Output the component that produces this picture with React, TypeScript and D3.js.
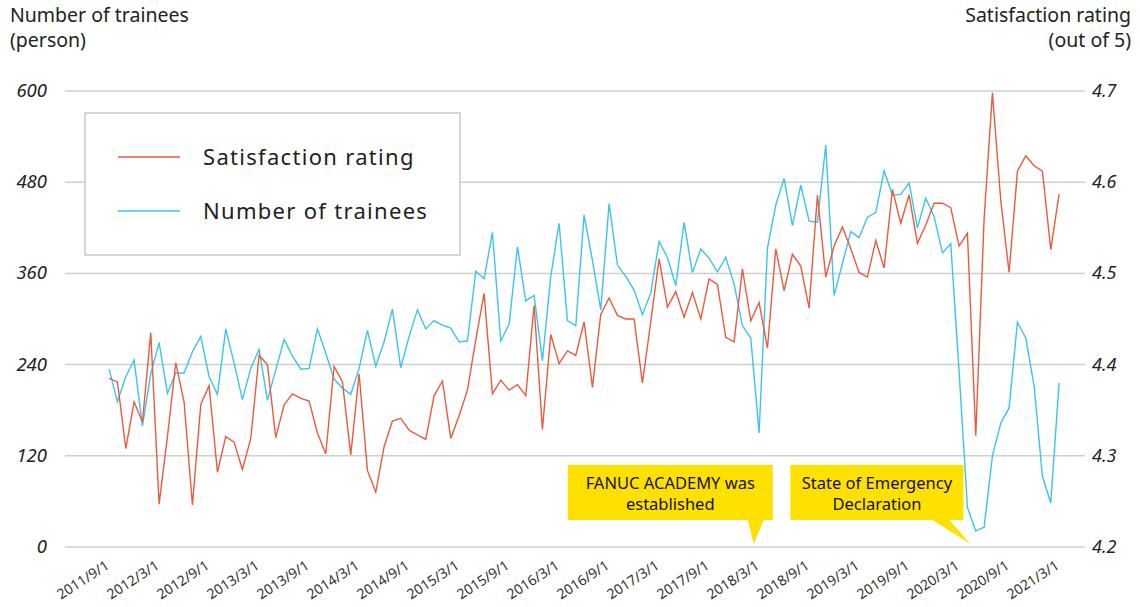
import React, { useEffect, useRef } from "react";
import * as d3 from "d3";

// monthly data, 2011/9 .. 2021/3
const trainees = [
  234, 191, 224, 246, 159, 228, 269, 202, 229, 229, 257, 277, 224, 201, 287, 242, 194, 235, 260, 193,
  233, 273, 251, 234, 235, 287, 255, 221, 209, 201, 235, 285, 238, 270, 313, 236, 277, 312, 287, 298,
  292, 288, 270, 271, 363, 353, 414, 271, 293, 395, 324, 331, 245, 356, 426, 298, 291, 437, 377, 312,
  452, 371, 356, 338, 306, 334, 402, 381, 344, 427, 361, 392, 380, 362, 381, 346, 291, 275, 150, 393,
  450, 485, 423, 476, 429, 427, 529, 331, 373, 415, 407, 434, 440, 495, 463, 464, 479, 420, 459, 435,
  387, 399, 231, 52, 21, 26, 120, 163, 183, 296, 275, 212, 93, 58, 216,
];

const satisfaction = [
  4.385, 4.381, 4.308, 4.359, 4.337, 4.435, 4.247, 4.321, 4.402, 4.359, 4.246, 4.356, 4.377, 4.282, 4.321,
  4.315, 4.285, 4.319, 4.41, 4.4, 4.32, 4.356, 4.368, 4.363, 4.36, 4.325, 4.302, 4.398, 4.381, 4.301,
  4.39, 4.284, 4.26, 4.31, 4.338, 4.341, 4.328, 4.323, 4.318, 4.366, 4.382, 4.319, 4.344, 4.372, 4.427,
  4.478, 4.368, 4.383, 4.372, 4.378, 4.366, 4.465, 4.329, 4.433, 4.401, 4.415, 4.41, 4.447, 4.375, 4.455,
  4.473, 4.454, 4.45, 4.45, 4.38, 4.447, 4.516, 4.463, 4.48, 4.452, 4.479, 4.45, 4.494, 4.488, 4.43,
  4.425, 4.505, 4.448, 4.468, 4.418, 4.527, 4.481, 4.521, 4.508, 4.462, 4.586, 4.496, 4.53, 4.551, 4.527,
  4.501, 4.496, 4.536, 4.506, 4.592, 4.555, 4.586, 4.533, 4.553, 4.577, 4.577, 4.572, 4.53, 4.544, 4.322,
  4.56, 4.698, 4.58, 4.501, 4.612, 4.629, 4.618, 4.612, 4.526, 4.587,
];

const tickLabels = [
  "2011/9/1", "2012/3/1", "2012/9/1", "2013/3/1", "2013/9/1", "2014/3/1", "2014/9/1",
  "2015/3/1", "2015/9/1", "2016/3/1", "2016/9/1", "2017/3/1", "2017/9/1", "2018/3/1",
  "2018/9/1", "2019/3/1", "2019/9/1", "2020/3/1", "2020/9/1", "2021/3/1",
];
const leftTicks = [0, 120, 240, 360, 480, 600];
const rightTicks = [4.2, 4.3, 4.4, 4.5, 4.6, 4.7];

const callouts = [
  { month: "2018/2/1", lines: ["FANUC ACADEMY was", "established"] },
  { month: "2020/4/1", lines: ["State of Emergency", "Declaration"] },
];

const RED = "#EC5A3D";
const BLUE = "#3CC3F0";
const YELLOW = "#FFE100";
const FONT = "'Noto Sans', 'Open Sans', sans-serif";

const W = 1140;
const H = 607;
const left = 65;
const right = 1085;
const top = 91;
const bottom = 547;

const months = d3
  .timeMonth.range(new Date(2011, 8, 1), new Date(2021, 3, 1))
  .map((d) => `${d.getFullYear()}/${d.getMonth() + 1}/1`);

export default function App() {
  const svgRef = useRef<SVGSVGElement>(null);

  useEffect(() => {
    const svg = d3.select(svgRef.current);
    svg.selectAll("*").remove();

    const x = d3
      .scalePoint<string>()
      .domain(months)
      .range([left, right])
      .padding(4.2)
      .align(0.63);
    const yL = d3.scaleLinear().domain([0, 600]).range([bottom, top]);
    const yR = d3.scaleLinear().domain([4.2, 4.7]).range([bottom, top]);

    // grid
    svg
      .append("g")
      .selectAll("line")
      .data(leftTicks)
      .join("line")
      .attr("x1", left)
      .attr("x2", right)
      .attr("y1", (d) => yL(d))
      .attr("y2", (d) => yL(d))
      .attr("stroke", "#cfcfcf")
      .attr("stroke-width", 1.5);

    // left labels
    svg
      .append("g")
      .selectAll("text")
      .data(leftTicks)
      .join("text")
      .attr("x", 47)
      .attr("y", (d) => yL(d) + 6)
      .attr("text-anchor", "end")
      .attr("font-style", "italic")
      .attr("font-size", 18.5)
      .attr("fill", "#222")
      .text((d) => d);

    // right labels
    svg
      .append("g")
      .selectAll("text")
      .data(rightTicks)
      .join("text")
      .attr("x", 1092)
      .attr("y", (d) => yR(d) + 6)
      .attr("font-style", "italic")
      .attr("font-size", 18)
      .attr("fill", "#222")
      .text((d) => d.toFixed(1));

    // x labels
    svg
      .append("g")
      .selectAll("text")
      .data(tickLabels)
      .join("text")
      .attr("transform", (d) => `translate(${(x(d) ?? 0) + 1},${568}) rotate(-33)`)
      .attr("text-anchor", "end")
      .attr("font-size", 14)
      .attr("fill", "#333")
      .text((d) => d);

    // axis titles
    const titles = svg.append("g").attr("font-size", 19.5).attr("fill", "#222");
    titles.append("text").attr("x", 10).attr("y", 22).text("Number of trainees");
    titles.append("text").attr("x", 10).attr("y", 47).text("(person)");
    titles.append("text").attr("x", 1131).attr("y", 22).attr("text-anchor", "end").text("Satisfaction rating");
    titles.append("text").attr("x", 1131).attr("y", 47).attr("text-anchor", "end").text("(out of 5)");

    // lines
    const lineT = d3
      .line<number>()
      .x((_, i) => x(months[i]) ?? 0)
      .y((d) => yL(d));
    const lineS = d3
      .line<number>()
      .x((_, i) => x(months[i]) ?? 0)
      .y((d) => yR(d));

    svg
      .append("path")
      .datum(trainees)
      .attr("d", lineT)
      .attr("fill", "none")
      .attr("stroke", BLUE)
      .attr("stroke-width", 1.4);
    svg
      .append("path")
      .datum(satisfaction)
      .attr("d", lineS)
      .attr("fill", "none")
      .attr("stroke", RED)
      .attr("stroke-width", 1.4);

    // legend
    const lg = svg.append("g");
    lg.append("rect")
      .attr("x", 85)
      .attr("y", 113)
      .attr("width", 375)
      .attr("height", 142)
      .attr("fill", "#fff")
      .attr("stroke", "#c8c8c8")
      .attr("stroke-width", 1.5);
    [
      { label: "Satisfaction rating", color: RED, y: 157 },
      { label: "Number of trainees", color: BLUE, y: 211 },
    ].forEach((e) => {
      lg.append("line")
        .attr("x1", 118)
        .attr("x2", 180)
        .attr("y1", e.y)
        .attr("y2", e.y)
        .attr("stroke", e.color)
        .attr("stroke-width", 1.4);
      lg.append("text")
        .attr("x", 203)
        .attr("y", e.y + 8)
        .attr("font-size", 22)
        .attr("letter-spacing", 1.3)
        .attr("fill", "#222")
        .text(e.label);
    });

    // callouts
    const boxes = [
      { w: 205, dl: 186, t0: -6, t1: 10 },
      { w: 173, dl: 180, t0: -38, t1: -21 },
    ];
    callouts.forEach((c, k) => {
      const tx = (x(c.month) ?? 0) + 3;
      const ty = bottom - 3;
      const b = boxes[k];
      const bx = tx - b.dl;
      const by = 465;
      const bh = 55;
      const g = svg.append("g");
      g.append("path")
        .attr(
          "d",
          `M${bx},${by}H${bx + b.w}V${by + bh}H${tx + b.t1}L${tx},${ty}L${tx + b.t0},${by + bh}H${bx}Z`
        )
        .attr("fill", YELLOW);
      c.lines.forEach((l, j) => {
        g.append("text")
          .attr("x", bx + b.w / 2)
          .attr("y", by + 24 + j * 21)
          .attr("text-anchor", "middle")
          .attr("font-size", 16.5)
          .attr("fill", "#111")
          .text(l);
      });
    });
  }, []);

  return (
    <svg
      ref={svgRef}
      width={W}
      height={H}
      style={{ position: "absolute", left: 0, top: 0, background: "#fff", fontFamily: FONT }}
    />
  );
}
